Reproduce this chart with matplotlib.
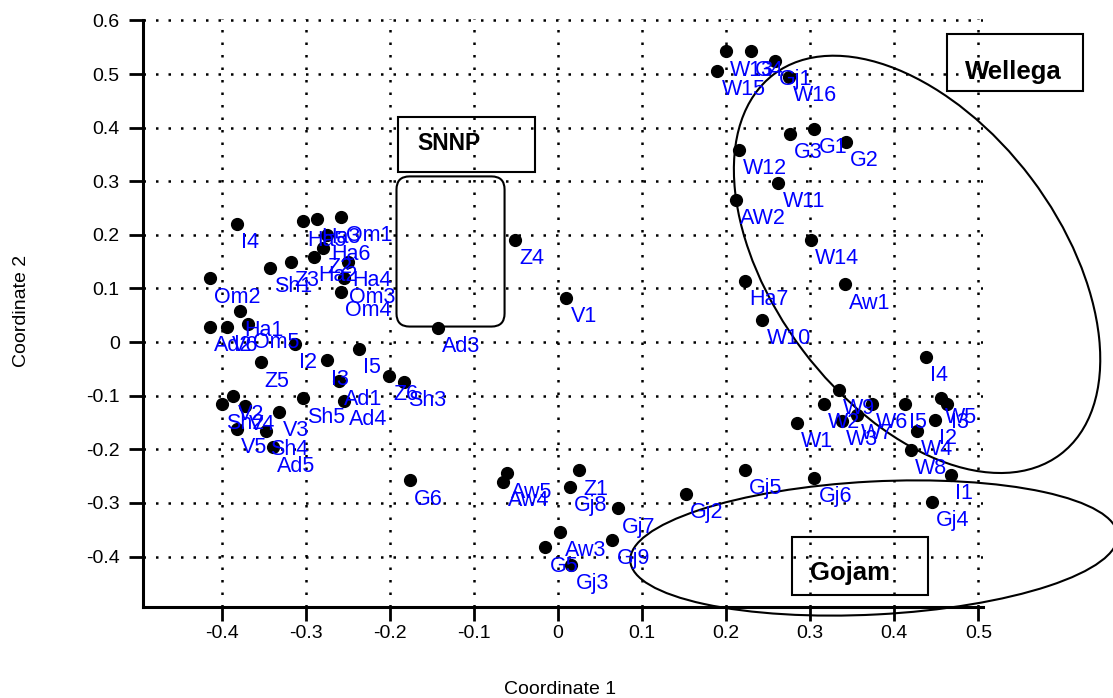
import matplotlib.pyplot as plt
from matplotlib.patches import Ellipse, Rectangle, FancyBboxPatch
from matplotlib.transforms import ScaledTranslation

plt.rcParams['font.family'] = ['Liberation Sans', 'DejaVu Sans']

# accession labels and their scores on the first two coordinates
names = ["I4", "Ha5", "Ha3", "Om1", "Ha6", "Z2", "Ha2", "Ha4", "Om3", "Om4",
         "Z3", "Sh1", "Om2", "Ha1", "Ad2", "V6", "Om5", "I2", "Z5", "I3",
         "I5", "Ad1", "Ad4", "Z6", "Sh3", "Sh5", "V2", "Sh2", "V4", "V3",
         "V5", "Sh4", "Ad5", "G6", "Z4", "V1", "Ad3", "Aw5", "Aw4", "Z1",
         "Gj8", "Gj7", "Aw3", "G5", "Gj3", "Gj9", "Gj2", "W13", "G4", "Gj1",
         "W15", "W16", "G3", "G1", "G2", "W12", "W11", "AW2", "W14", "Ha7",
         "Aw1", "W10", "I4", "W9", "W2", "W6", "I5", "W5", "I3", "W1",
         "W3", "W7", "I2", "W4", "W8", "I1", "Gj4", "Gj6", "Gj5"]
coord1 = [-0.382, -0.3035, -0.286, -0.2575, -0.275, -0.279, -0.290, -0.250, -0.254, -0.258,
          -0.318, -0.343, -0.414, -0.378, -0.414, -0.393, -0.368, -0.313, -0.3535, -0.275,
          -0.237, -0.260, -0.254, -0.201, -0.183, -0.3035, -0.386, -0.400, -0.372, -0.332,
          -0.382, -0.347, -0.339, -0.176, -0.051, 0.010, -0.143, -0.061, -0.065, 0.025,
          0.014, 0.071, 0.003, -0.015, 0.016, 0.0646, 0.152, 0.1995, 0.229, 0.258,
          0.1896, 0.275, 0.276, 0.305, 0.342, 0.2155, 0.262, 0.2115, 0.301, 0.222,
          0.341, 0.243, 0.438, 0.3337, 0.316, 0.3735, 0.413, 0.455, 0.462, 0.284,
          0.3377, 0.3555, 0.448, 0.427, 0.420, 0.467, 0.445, 0.305, 0.222]
coord2 = [0.220, 0.225, 0.230, 0.234, 0.199, 0.175, 0.159, 0.150, 0.119, 0.094,
          0.150, 0.139, 0.119, 0.0575, 0.028, 0.028, 0.034, -0.003, -0.038, -0.034,
          -0.013, -0.072, -0.109, -0.0635, -0.074, -0.105, -0.100, -0.116, -0.119, -0.130,
          -0.162, -0.166, -0.196, -0.258, 0.191, 0.082, 0.027, -0.245, -0.260, -0.239,
          -0.270, -0.310, -0.354, -0.383, -0.415, -0.369, -0.2835, 0.542, 0.542, 0.525,
          0.506, 0.495, 0.389, 0.398, 0.373, 0.358, 0.297, 0.265, 0.191, 0.114,
          0.108, 0.042, -0.028, -0.0895, -0.1147, -0.115, -0.115, -0.105, -0.115, -0.150,
          -0.147, -0.136, -0.145, -0.165, -0.201, -0.247, -0.298, -0.253, -0.238]

xticks = [-0.4, -0.3, -0.2, -0.1, 0.0, 0.1, 0.2, 0.3, 0.4, 0.5]
xtick_labels = ["-0.4", "-0.3", "-0.2", "-0.1", "0", "0.1", "0.2", "0.3", "0.4", "0.5"]
yticks = [-0.4, -0.3, -0.2, -0.1, 0.0, 0.1, 0.2, 0.3, 0.4, 0.5, 0.6]
ytick_labels = ["-0.4", "-0.3", "-0.2", "-0.1", "0", "0.1", "0.2", "0.3", "0.4", "0.5", "0.6"]

fig = plt.figure(figsize=(11.13, 6.98), dpi=100)
ax = fig.add_axes([0.1288, 0.1304, 0.7541, 0.8427])
ax.set_xlim(-0.493, 0.505)
ax.set_ylim(-0.494, 0.603)

ax.set_xticks(xticks)
ax.set_xticklabels(xtick_labels)
ax.set_yticks(yticks)
ax.set_yticklabels(ytick_labels)
ax.tick_params(axis='x', direction='out', length=10, width=2, labelsize=14, pad=3)
ax.tick_params(axis='y', direction='out', length=10, width=2, labelsize=14, pad=7)

for s in ['top', 'right']:
    ax.spines[s].set_visible(False)
for s in ['left', 'bottom']:
    ax.spines[s].set_linewidth(2.2)
ax.spines['left'].set_bounds(-0.494, 0.6)

ax.set_axisbelow(True)
ax.grid(True, color='black', linestyle=(0, (1, 4)), linewidth=1.8)

ax.plot(coord1, coord2, 'o', color='black', ms=8.5, linestyle='none', zorder=3, clip_on=False)
for n, x, y in zip(names, coord1, coord2):
    ax.annotate(n, (x, y), xytext=(3, -6), textcoords='offset points',
                color='#0000ff', fontsize=15.5, ha='left', va='top', zorder=4)

# group outlines
wellega = Ellipse((0, 0), 4.76, 2.86, angle=-53, fill=False, lw=1.5, color='black', clip_on=False,
                  transform=fig.dpi_scale_trans + ScaledTranslation(0.427, 0.145, ax.transData))
gojam = Ellipse((0, 0), 4.88, 1.33, angle=3, fill=False, lw=1.5, color='black', clip_on=False,
                transform=fig.dpi_scale_trans + ScaledTranslation(0.3757, -0.384, ax.transData))
ax.add_patch(wellega)
ax.add_patch(gojam)

snnp = FancyBboxPatch((-0.192, 0.029), 0.1285, 0.280, boxstyle='round,pad=0,rounding_size=0.0155',
                      mutation_aspect=1.572, fill=False, lw=1.5, ec='black', clip_on=False)
ax.add_patch(snnp)

ax.add_patch(Rectangle((-0.190, 0.3168), 0.1627, 0.1028, fill=False, lw=1.5, ec='black', clip_on=False))
ax.add_patch(Rectangle((0.4622, 0.4677), 0.1617, 0.1078, fill=False, lw=1.5, ec='black', clip_on=False))
ax.add_patch(Rectangle((0.2779, -0.472), 0.1624, 0.108, fill=False, lw=1.5, ec='black', clip_on=False))
ax.text(-0.1296, 0.371, "SNNP", fontsize=16.5, fontweight='bold', ha='center', va='center')
ax.text(0.541, 0.503, "Wellega", fontsize=18.5, fontweight='bold', ha='center', va='center', clip_on=False)
ax.text(0.347, -0.431, "Gojam", fontsize=18.5, fontweight='bold', ha='center', va='center')

fig.text(560 / 1113, 1 - 689 / 698, "Coordinate 1", fontsize=14, ha='center', va='center')
fig.text(22 / 1113, 1 - 311 / 698, "Coordinate 2", fontsize=14, rotation=90, ha='center', va='center')

fig.savefig("out.png", dpi=100)
